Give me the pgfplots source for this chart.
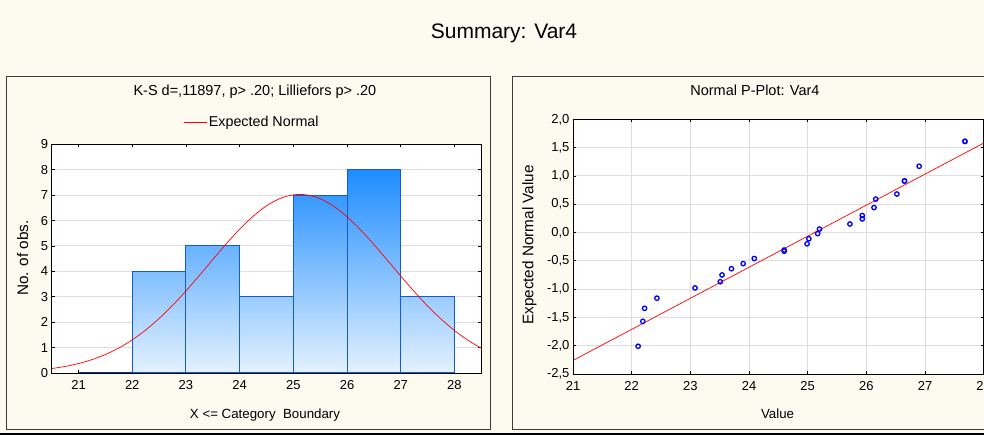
\documentclass[border=0pt]{standalone}
\usepackage{fontspec}
\setmainfont{Liberation Sans}
\usepackage{pgfplots}
\pgfplotsset{compat=1.18}
\definecolor{cream}{RGB}{253,250,240}
\definecolor{barDark}{RGB}{30,140,255}
\definecolor{barLight}{RGB}{228,242,255}
\definecolor{barEdge}{RGB}{20,90,210}
\definecolor{gridgray}{RGB}{222,222,222}
\definecolor{frame}{RGB}{60,60,60}
\pgfplotsset{
  panel/.style={
    scale only axis,
    anchor=south west,
    axis background/.style={fill=white},
    tick align=inside,
    major tick length=3pt,
    tick style={black, line width=0.6pt},
    axis line style={black, line width=0.8pt},
    grid style={gridgray, line width=0.9pt},
    ticklabel style={font=\fontsize{13}{15}\selectfont},
    xticklabel style={yshift=-4pt},
    /pgf/number format/assume math mode=true,
    title style={anchor=center, font=\fontsize{14.5}{17}\selectfont},
    xlabel style={anchor=center, font=\fontsize{13.3}{15}\selectfont},
    ylabel style={anchor=center, font=\fontsize{15.3}{17}\selectfont},
  }
}
\begin{document}
\begin{tikzpicture}
\useasboundingbox (0pt,0pt) rectangle (984pt,435pt);
\fill[cream] (0pt,0pt) rectangle (984pt,435pt);
\draw[frame, line width=1pt] (6pt,5pt) rectangle (490pt,358pt);
\draw[frame, line width=1pt] (512pt,5pt) rectangle (1000pt,358pt);
\draw[black, line width=1.2pt] (0pt,1pt) -- (984pt,1pt);
\node[font=\fontsize{21}{24}\selectfont] at (504pt,402pt) {Summary: Var4};

% ---------- Histogram ----------
\begin{axis}[panel,
  at={(51.7pt,62pt)}, width=429.6pt, height=228.7pt,
  xmin=20.5, xmax=28.5, ymin=0, ymax=9,
  xtick={21,22,23,24,25,26,27,28},
  ytick={0,1,2,3,4,5,6,7,8,9},
  ymajorgrids,
  title={K-S d=,11897, p> .20; Lilliefors p> .20},
  title style={at={(axis description cs:0.473,1.202)}},
  xlabel={X <= Category\ \ Boundary},
  xlabel style={at={(axis description cs:0.4965,-0.1836)}},
  ylabel={No. of obs.},
  ylabel style={at={(axis description cs:-0.0675,0.503)}},
  legend style={at={(axis description cs:0.466,1.0975)}, anchor=center,
    draw=none, fill=none, font=\fontsize{14.3}{16}\selectfont},
  legend image code/.code={\draw[#1] (0pt,0pt) -- (23pt,0pt);},
]
\addplot[forget plot, draw=barEdge, line width=1pt, top color=barDark!50!barLight, bottom color=barLight]
  coordinates {(22,0) (22,4) (23,4) (23,0)} -- cycle;
\addplot[forget plot, draw=barEdge, line width=1pt, top color=barDark!62.5!barLight, bottom color=barLight]
  coordinates {(23,0) (23,5) (24,5) (24,0)} -- cycle;
\addplot[forget plot, draw=barEdge, line width=1pt, top color=barDark!37.5!barLight, bottom color=barLight]
  coordinates {(24,0) (24,3) (25,3) (25,0)} -- cycle;
\addplot[forget plot, draw=barEdge, line width=1pt, top color=barDark!87.5!barLight, bottom color=barLight]
  coordinates {(25,0) (25,7) (26,7) (26,0)} -- cycle;
\addplot[forget plot, draw=barEdge, line width=1pt, top color=barDark, bottom color=barLight]
  coordinates {(26,0) (26,8) (27,8) (27,0)} -- cycle;
\addplot[forget plot, draw=barEdge, line width=1pt, top color=barDark!37.5!barLight, bottom color=barLight]
  coordinates {(27,0) (27,3) (28,3) (28,0)} -- cycle;
\addplot[forget plot, draw=barEdge!60!black, line width=1.4pt]
  coordinates {(21,0) (22,0)};
\addplot[red, line width=0.7pt, smooth] coordinates {
 (20.5,0.175) (20.75,0.258) (21,0.373) (21.25,0.527) (21.5,0.728) (21.75,0.985)
 (22,1.305) (22.25,1.691) (22.5,2.144) (22.75,2.660) (23,3.230) (23.25,3.839)
 (23.5,4.465) (23.75,5.081) (24,5.659) (24.25,6.167) (24.5,6.578) (24.75,6.866)
 (25,7.012) (25.25,7.009) (25.5,6.857) (25.75,6.563) (26,6.148) (26.25,5.637)
 (26.5,5.057) (26.75,4.439) (27,3.814) (27.25,3.207) (27.5,2.638) (27.75,2.124)
 (28,1.674) (28.25,1.291) (28.5,0.974)};
\addlegendentry{Expected Normal}
\end{axis}

% ---------- Normal P-Plot ----------
\begin{axis}[panel,
  at={(573pt,61pt)}, width=410.7pt, height=254.7pt,
  xmin=21, xmax=28, ymin=-2.5, ymax=2.0,
  xtick={21,22,23,24,25,26,27,28},
  ytick={-2.5,-2,-1.5,-1,-0.5,0,0.5,1,1.5,2},
  yticklabels={{-2,5},{-2,0},{-1,5},{-1,0},{-0,5},{0,0},{0,5},{1,0},{1,5},{2,0}},
  xmajorgrids, ymajorgrids,
  title={Normal P-Plot: Var4},
  title style={at={(axis description cs:0.443,1.0888)}},
  xlabel={Value},
  xlabel style={at={(axis description cs:0.498,-0.158)}},
  ylabel={Expected Normal Value},
  ylabel style={at={(axis description cs:-0.1064,0.5065)}},
]
\addplot[red, line width=0.7pt] coordinates {(21,-2.26) (28,1.58)};
\addplot[only marks, mark=o, mark size=2.2pt, blue, line width=1.3pt] coordinates {
 (22.11,-2.01) (22.19,-1.57) (22.22,-1.34) (22.43,-1.16) (23.08,-0.98)
 (23.51,-0.87) (23.54,-0.75) (23.70,-0.64) (23.90,-0.55) (24.09,-0.46)
 (24.60,-0.31) (24.60,-0.33) (24.99,-0.20) (25.02,-0.11) (25.17,-0.02)
 (25.20,0.06) (25.72,0.15) (25.93,0.24) (25.93,0.30) (26.13,0.44)
 (26.16,0.59) (26.52,0.68) (26.65,0.91) (26.65,0.91) (26.90,1.17)
 (27.68,1.61) (27.68,1.61)};
\end{axis}
\end{tikzpicture}
\end{document}
